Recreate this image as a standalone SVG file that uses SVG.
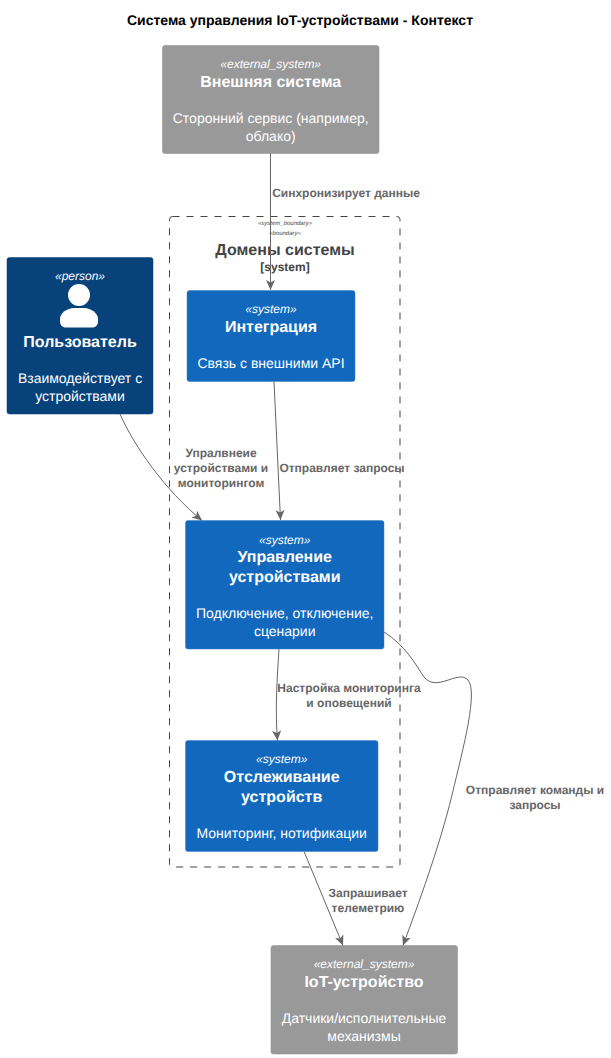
<svg xmlns="http://www.w3.org/2000/svg" width="611" height="1058" viewBox="0 0 611 1058">
<style>
text{font-family:"Liberation Sans",Arial,sans-serif;text-anchor:middle;text-rendering:geometricPrecision}
.title{font-size:14px;font-weight:bold;fill:#000}
.st{font-size:12px;font-style:italic;fill:#fff}
.nm{font-size:16px;font-weight:bold;fill:#fff}
.ds{font-size:14px;fill:#fff}
.lb{font-size:12px;font-weight:bold;fill:#666}
.ext{fill:#999;stroke:#8a8a8a;stroke-width:.5}
.sys{fill:#1168BD;stroke:#3C7FC0;stroke-width:.5}
.per{fill:#08427B;stroke:#073B6F;stroke-width:.5}
.c{fill:none;stroke:#666;stroke-width:1}
</style>
<defs>
<marker id="a" markerUnits="userSpaceOnUse" markerWidth="12" markerHeight="12" refX="10" refY="6" orient="auto"><path d="M0 1.500L10 6L0 10.500L2.500 6Z" fill="#666"/></marker>
</defs>
<text class="title" x="300" y="25">Система управления IoT-устройствами - Контекст</text>
<g id="boundary">
<rect x="169.500" y="216.500" width="230.500" height="650.500" rx="3" fill="none" stroke="#444" stroke-width="1" stroke-dasharray="7 7"/>
<text x="285" y="225" font-size="6" font-style="italic" fill="#444">«system_boundary»</text>
<text x="285" y="235" font-size="6" font-style="italic" fill="#444">«boundary»</text>
<text x="285" y="255" font-size="16" font-weight="bold" fill="#444">Домены системы</text>
<text x="285" y="271" font-size="12" font-weight="bold" fill="#444">[system]</text>
</g>
<g id="external-system">
<rect class="ext" x="162.500" y="45.500" width="216.500" height="108" rx="2.500"/>
<text class="st" x="270.700" y="68">«external_system»</text>
<text class="nm" x="270.700" y="87">Внешняя система</text>
<text class="ds" x="270.700" y="123">Сторонний сервис (например,</text>
<text class="ds" x="270.700" y="141">облако)</text>
</g>
<g id="user">
<rect class="per" x="7" y="257.500" width="146" height="156.500" rx="2.500"/>
<text class="st" x="80" y="280">«person»</text>
<circle cx="79" cy="295" r="11" fill="#fff"/>
<path d="M60 321V319C60 313 67 308 74 308H84C91 308 98 313 98 319V321C98 325 96 327.500 92 327.500H66C62 327.500 60 325 60 321Z" fill="#fff"/>
<text class="nm" x="80" y="347">Пользователь</text>
<text class="ds" x="80" y="383">Взаимодействует с</text>
<text class="ds" x="80" y="401">устройствами</text>
</g>
<g id="integration">
<rect class="sys" x="187" y="290.500" width="168" height="91" rx="2.500"/>
<text class="st" x="271" y="313">«system»</text>
<text class="nm" x="271" y="332">Интеграция</text>
<text class="ds" x="271" y="368">Связь с внешними API</text>
</g>
<g id="device-management">
<rect class="sys" x="185.500" y="520.500" width="198.500" height="128.500" rx="2.500"/>
<text class="st" x="284.700" y="544">«system»</text>
<text class="nm" x="284.700" y="562">Управление</text>
<text class="nm" x="284.700" y="582">устройствами</text>
<text class="ds" x="284.700" y="618">Подключение, отключение,</text>
<text class="ds" x="284.700" y="636">сценарии</text>
</g>
<g id="tracking">
<rect class="sys" x="185.500" y="740.500" width="192.500" height="111" rx="2.500"/>
<text class="st" x="281.700" y="763">«system»</text>
<text class="nm" x="281.700" y="782">Отслеживание</text>
<text class="nm" x="281.700" y="802">устройств</text>
<text class="ds" x="281.700" y="838">Мониторинг, нотификации</text>
</g>
<g id="iot-device">
<rect class="ext" x="271" y="945.500" width="186.500" height="108.500" rx="2.500"/>
<text class="st" x="364" y="968">«external_system»</text>
<text class="nm" x="364" y="987">IoT-устройство</text>
<text class="ds" x="364" y="1023">Датчики/исполнительные</text>
<text class="ds" x="364" y="1041">механизмы</text>
</g>
<g id="connectors">
<path class="c" marker-end="url(#a)" d="M270.500 153.500V290"/>
<path class="c" marker-end="url(#a)" d="M274 381.500L280.500 520"/>
<path class="c" marker-end="url(#a)" d="M120 414C134 446 165 490 202 520.500"/>
<path class="c" marker-end="url(#a)" d="M279 649C277 680 275 710 277.500 740.500"/>
<path class="c" marker-end="url(#a)" d="M304 851.500L343 945.500"/>
<path class="c" marker-end="url(#a)" d="M384 632C405 645 416 665 424 677C437 693 458 669 468 680C478 692 464 745 452 795C440 845 418 905 403 945.500"/>
<text class="lb" x="346" y="197">Синхронизирует данные</text>
<text class="lb" x="342" y="472">Отправляет запросы</text>
<text class="lb" x="221" y="457">Упралвнеие</text>
<text class="lb" x="221" y="472">устройствами и</text>
<text class="lb" x="221" y="487">мониторингом</text>
<text class="lb" x="349" y="692">Настройка мониторинга</text>
<text class="lb" x="349" y="707">и оповещений</text>
<text class="lb" x="535" y="794">Отправляет команды и</text>
<text class="lb" x="535" y="809">запросы</text>
<text class="lb" x="368" y="897">Запрашивает</text>
<text class="lb" x="368" y="912">телеметрию</text>
</g>
</svg>
